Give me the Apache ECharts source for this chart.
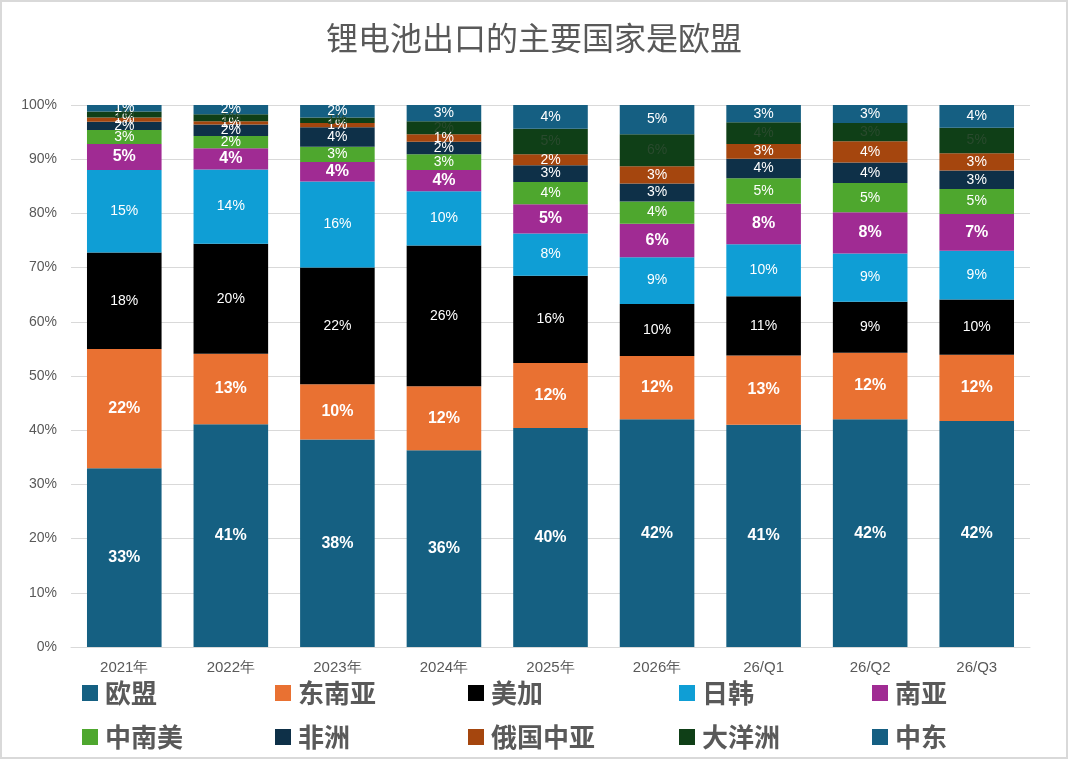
<!DOCTYPE html>
<html>
<head>
<meta charset="utf-8">
<script src="https://cdn.jsdelivr.net/npm/echarts@6/dist/echarts.min.js"></script>
<style>
html,body{margin:0;padding:0;background:#fff;}
#main{position:absolute;left:0;top:0;width:1064px;height:755px;border:2px solid #d9d9d9;}
</style>
</head>
<body>
<div id="main"></div>
<script>
// 分类与各地区占比(%)
var categories = ['2021年','2022年','2023年','2024年','2025年','2026年','26/Q1','26/Q2','26/Q3'];
var names = ['欧盟','东南亚','美加','日韩','南亚','中南美','非洲','俄国中亚','大洋洲','中东'];
var colors = ['#156082','#E97132','#000000','#0F9ED5','#A02B93','#4EA72E','#0E3048','#A5460E','#0F3F17','#155F82'];

var euData     = [33.0, 41.1, 38.3, 36.3, 40.4, 42.0, 41.0, 42.0, 41.7];
var seaData    = [22.0, 13.0, 10.2, 11.8, 12.0, 11.7, 12.8, 12.3, 12.2];
var naData     = [17.8, 20.3, 21.5, 26.0, 16.1,  9.6, 10.9,  9.4, 10.2];
var jkData     = [15.2, 13.7, 15.9, 10.0,  7.8,  8.6,  9.6,  8.9,  9.0];
var saData     = [ 4.8,  3.9,  3.6,  3.9,  5.4,  6.2,  7.5,  7.6,  6.8];
var latamData  = [ 2.6,  2.3,  2.8,  2.9,  4.1,  4.1,  4.7,  5.4,  4.6];
var africaData = [ 1.5,  2.1,  3.6,  2.3,  3.1,  3.3,  3.6,  3.8,  3.4];
var ruData     = [ 0.8,  0.6,  0.8,  1.4,  2.0,  3.2,  2.7,  3.9,  3.2];
var oceData    = [ 1.1,  1.3,  1.0,  2.4,  4.7,  5.9,  4.0,  3.4,  4.7];
var meData     = [ 1.2,  1.7,  2.3,  3.0,  4.4,  5.4,  3.2,  3.3,  4.2];

var allData = [euData, seaData, naData, jkData, saData, latamData, africaData, ruData, oceData, meData];
var boldLabels = {'欧盟':true,'东南亚':true,'南亚':true};

var series = [];
for(var i=0;i<names.length;i++){
	var bold = boldLabels[names[i]];
	series.push({
		name: names[i],
		type: 'bar',
		stack: 'total',
		barCategoryGap: '30%',
		itemStyle: {color: colors[i]},
		label: {
			show: true,
			position: 'inside',
			formatter: function(p){ return Math.round(p.value) + '%'; },
			color: names[i]=='大洋洲' ? '#2a4a2e' : '#ffffff',
			fontSize: bold ? 16 : 14,
			fontWeight: bold ? 'bold' : 'normal',
			fontFamily: 'Liberation Sans'
		},
		data: allData[i]
	});
}

// 图例位置(两行五列)
var legendLeft = [75, 268, 461, 672, 865];
var legendTop = [673, 717];
var legends = [];
for(var j=0;j<names.length;j++){
	legends.push({
		data: [names[j]],
		left: legendLeft[j%5],
		top: legendTop[Math.floor(j/5)],
		icon: 'rect',
		itemWidth: 16,
		itemHeight: 16,
		itemGap: 0,
		selectedMode: false,
		textStyle: {fontSize: 26, color: '#595959', fontWeight: 'bold', fontFamily: 'Noto Sans CJK SC', padding: [0,0,0,2]}
	});
}

var mycharts = echarts.init(document.getElementById('main'));
var option = {
	animation: false,
	title: {
		text: '锂电池出口的主要国家是欧盟',
		left: 'center',
		top: 15,
		textStyle: {fontSize: 32, color: '#595959', fontWeight: 'normal', fontFamily: 'Noto Sans CJK SC'}
	},
	legend: legends,
	grid: {left: 69, right: 36, top: 103, bottom: 110},
	xAxis: {
		type: 'category',
		data: categories,
		axisTick: {show: false},
		axisLine: {lineStyle: {color: '#d9d9d9'}},
		axisLabel: {color: '#595959', fontSize: 15, margin: 13, fontFamily: 'Liberation Sans'}
	},
	yAxis: {
		type: 'value',
		min: 0,
		max: 100,
		interval: 10,
		axisLabel: {formatter: '{value}%', color: '#595959', fontSize: 14, margin: 14, fontFamily: 'Liberation Sans'},
		splitLine: {lineStyle: {color: '#d9d9d9'}}
	},
	series: series
};
mycharts.setOption(option);
</script>
</body>
</html>
